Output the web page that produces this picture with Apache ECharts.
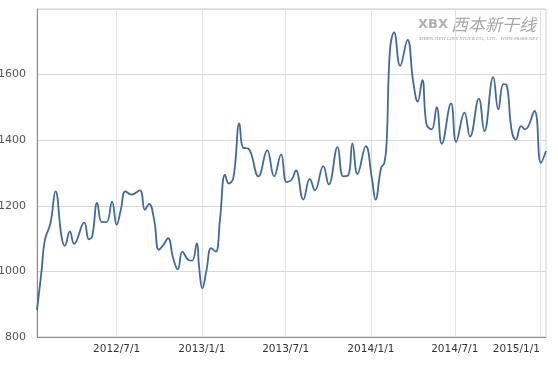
<!DOCTYPE html>
<html><head><meta charset="utf-8">
<script src="https://cdn.jsdelivr.net/npm/echarts@6/dist/echarts.min.js"></script>
<style>html,body{margin:0;padding:0;background:#fff}#c{width:558px;height:365px}</style>
</head><body><div id="c"></div>
<script>
const dates = ['2012-01-11','2012-01-21','2012-01-28','2012-02-09','2012-02-20','2012-03-04','2012-03-11','2012-03-22','2012-03-31','2012-04-22','2012-05-02','2012-05-09','2012-05-20','2012-05-30','2012-06-09','2012-06-21','2012-07-01','2012-07-10','2012-07-20','2012-08-02','2012-08-20','2012-08-31','2012-09-09','2012-09-20','2012-09-30','2012-10-10','2012-10-20','2012-10-31','2012-11-10','2012-11-20','2012-12-03','2012-12-11','2012-12-21','2012-12-26','2013-01-02','2013-01-11','2013-01-21','2013-01-31','2013-02-09','2013-02-20','2013-02-28','2013-03-10','2013-03-23','2013-03-31','2013-04-11','2013-05-03','2013-05-22','2013-06-06','2013-06-21','2013-07-03','2013-07-14','2013-07-23','2013-08-08','2013-08-22','2013-09-02','2013-09-20','2013-10-02','2013-10-21','2013-11-02','2013-11-13','2013-11-22','2013-12-03','2013-12-21','2014-01-03','2014-01-11','2014-01-23','2014-01-30','2014-02-04','2014-02-11','2014-02-20','2014-03-05','2014-03-21','2014-04-02','2014-04-12','2014-04-22','2014-05-01','2014-05-12','2014-05-23','2014-06-03','2014-06-23','2014-07-04','2014-07-22','2014-08-03','2014-08-22','2014-09-03','2014-09-22','2014-10-03','2014-10-14','2014-10-21','2014-11-01','2014-11-10','2014-11-21','2014-11-30','2014-12-20','2015-01-03','2015-01-14'];
const values = [882,1004,1096,1147,1244,1106,1078,1122,1084,1149,1098,1106,1209,1150,1150,1213,1142,1188,1244,1234,1247,1188,1206,1157,1066,1081,1101,1040,1006,1060,1035,1033,1086,1014,948,1004,1071,1060,1157,1295,1268,1285,1451,1377,1375,1290,1369,1290,1357,1272,1280,1308,1219,1282,1247,1321,1265,1379,1290,1293,1390,1297,1382,1285,1219,1316,1331,1397,1673,1729,1627,1706,1581,1518,1583,1448,1433,1501,1389,1512,1395,1484,1411,1527,1428,1592,1494,1571,1568,1428,1402,1443,1433,1489,1331,1367];
const xTickLabels = ['2012/7/1','2013/1/1','2013/7/1','2014/1/1','2014/7/1','2015/1/1'];
const yTicks = [800,1000,1200,1400,1600];
const xMin = '2012-01-11', xMax = '2015-01-14';

const toTs = s => { const p = s.split(/[-\/]/).map(Number); return Date.UTC(p[0], p[1]-1, p[2]); };
const xTickTs = xTickLabels.map(toTs);
const fmt = v => { const d = new Date(v); return d.getUTCFullYear()+'/'+(d.getUTCMonth()+1)+'/'+d.getUTCDate(); };

const chart = echarts.init(document.getElementById('c'));
chart.setOption({
  animation: false,
  backgroundColor: '#ffffff',
  grid: { left: 37, right: 12, top: 9, bottom: 28, show: true, borderColor: '#cfcfcf', borderWidth: 1, outerBoundsMode: 'none', containLabel: false },
  xAxis: {
    type: 'value',
    min: toTs(xMin), max: toTs(xMax),
    axisLine: { lineStyle: { color: '#8c8c8c', width: 1 } },
    axisTick: { show: false, customValues: xTickTs },
    axisLabel: { customValues: xTickTs, formatter: fmt, color: '#333', fontSize: 10.5, fontFamily: 'DejaVu Sans', margin: 7, hideOverlap: false, alignMaxLabel: 'right' },
    splitLine: { show: true, lineStyle: { color: '#e0e0e0' } }
  },
  yAxis: {
    type: 'value', min: 800, max: 1800, interval: 200,
    axisLine: { show: true, lineStyle: { color: '#8c8c8c', width: 1 } },
    axisTick: { show: false },
    axisLabel: { color: '#555', fontSize: 11, fontFamily: 'DejaVu Sans', margin: 11, showMaxLabel: false,
      formatter: v => yTicks.includes(v) ? String(v) : '' },
    splitLine: { show: true, lineStyle: { color: '#d8d8d8' } }
  },
  graphic: [
    { type: 'text', left: 451, top: 16, style: { text: '西本新干线', fill: '#a8a8a8', font: 'italic 17px "Noto Sans CJK SC"' } },
    { type: 'text', left: 418, top: 18, style: { text: 'XBX', fill: '#b0b0b0', font: 'bold 13px "DejaVu Sans"' } },
    { type: 'text', left: 419, top: 37, style: { text: 'XIBEN NEW LINE STOCK CO., LTD.   WWW.96369.NET', fill: '#a0a0a0', font: 'italic 4.2px "DejaVu Serif"' } }
  ],
  series: [{
    type: 'line',
    data: dates.map((d, i) => [toTs(d), values[i]]),
    smooth: 0.45,
    showSymbol: false,
    lineStyle: { color: '#42699a', width: 1.8 },
    itemStyle: { color: '#42699a' }
  }]
});
</script></body></html>
